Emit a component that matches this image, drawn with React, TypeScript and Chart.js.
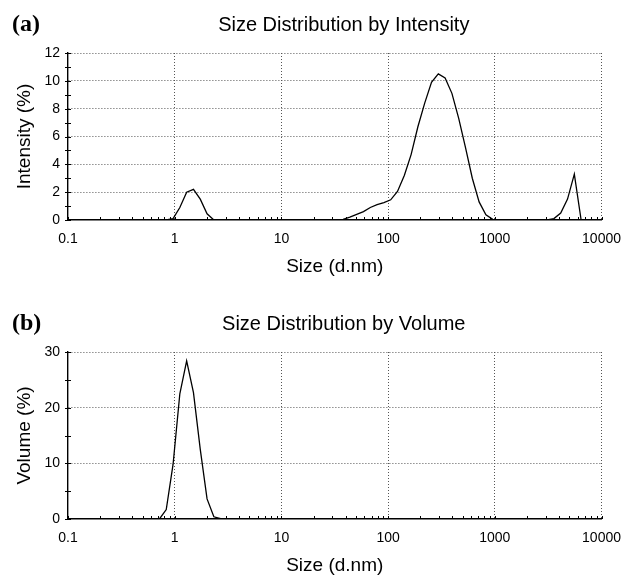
import React, { useEffect, useRef } from "react";
import { Chart, registerables } from "chart.js";

Chart.register(...registerables);

// Size classes (d.nm)
const sizes = [
  0.4, 0.4632, 0.5365, 0.6213, 0.7195, 0.8332, 0.965, 1.117, 1.294, 1.499,
  1.736, 2.01, 2.328, 2.696, 3.122, 3.615, 4.187, 4.849, 5.615, 6.503,
  7.531, 8.721, 10.1, 11.7, 13.54, 15.69, 18.17, 21.04, 24.36, 28.21,
  32.67, 37.84, 43.82, 50.75, 58.77, 68.06, 78.82, 91.28, 105.7, 122.4,
  141.8, 164.2, 190.1, 220.2, 255.0, 295.3, 342.0, 396.1, 458.7, 531.2,
  615.1, 712.4, 825.0, 955.4, 1106, 1281, 1484, 1718, 1990, 2305,
  2669, 3091, 3580, 4145, 4801, 5560, 6439, 7456, 8635, 10000,
];

// Intensity (%)
const intensity = [
  0, 0, 0, 0, 0, 0, 0.1, 0.9, 2.0, 2.2,
  1.5, 0.45, 0, 0, 0, 0, 0, 0, 0, 0,
  0, 0, 0, 0, 0, 0, 0, 0, 0, 0,
  0, 0.05, 0.2, 0.4, 0.6, 0.9, 1.1, 1.25, 1.45, 2.05,
  3.2, 4.7, 6.7, 8.4, 9.9, 10.5, 10.2, 9.1, 7.3, 5.2,
  3.0, 1.3, 0.38, 0.05, 0, 0, 0, 0, 0, 0,
  0, 0, 0.1, 0.5, 1.5, 3.3, 0, 0, 0, 0,
];

// Volume (%)
const volume = [
  0, 0, 0, 0, 0, 1.7, 9.8, 22.5, 28.4, 22.7,
  12.5, 3.6, 0.4, 0.05, 0, 0, 0, 0, 0, 0,
  0, 0, 0, 0, 0, 0, 0, 0, 0, 0,
  0, 0, 0, 0, 0, 0, 0, 0, 0, 0,
  0, 0, 0, 0, 0, 0, 0, 0, 0, 0,
  0, 0, 0, 0, 0, 0, 0, 0, 0, 0,
  0, 0, 0, 0, 0, 0, 0, 0, 0, 0,
];

const xDecades = [0.1, 1, 10, 100, 1000, 10000];
const xTickLabels = ["0.1", "1", "10", "100", "1000", "10000"];
const xMinorMultipliers = [2, 3, 4, 5, 6, 7, 8, 9];

const intensityTickLabels = [0, 2, 4, 6, 8, 10, 12];
const intensityMinorStep = 1;
const volumeTickLabels = [0, 10, 20, 30];
const volumeMinorStep = 5;

const FONT = '"Liberation Sans", Arial, Helvetica, sans-serif';
const SERIF = '"Liberation Serif", "Times New Roman", serif';
const GRID = "#555";
const NONE = "rgba(0,0,0,0)";

const W = 632;
const H = 276;

function decadeIndex(v: number) {
  return xDecades.findIndex((d) => Math.abs(v - d) / d < 1e-6);
}

function buildXTicks() {
  const out: { value: number; major: boolean }[] = [];
  for (let i = 0; i < xDecades.length; i++) {
    const d = xDecades[i];
    out.push({ value: d, major: true });
    if (i < xDecades.length - 1) {
      for (const m of xMinorMultipliers) {
        out.push({ value: parseFloat((d * m).toPrecision(8)), major: false });
      }
    }
  }
  return out;
}

const decorPlugin = {
  id: "decor",
  afterDraw(chart: any, _args: any, opts: any) {
    const ctx = chart.ctx as CanvasRenderingContext2D;
    const { left, bottom, right } = chart.chartArea;
    ctx.save();
    ctx.fillStyle = "#000";
    ctx.textBaseline = "middle";
    ctx.textAlign = "left";
    ctx.font = `bold 24px ${SERIF}`;
    ctx.fillText(opts.label, 12, 25);
    ctx.font = `20px ${FONT}`;
    ctx.textAlign = "center";
    ctx.fillText(opts.title, (left + right) / 2 + 9, 25);

    ctx.strokeStyle = "#000";
    ctx.lineWidth = 1;
    const xs = chart.scales.x;
    const ys = chart.scales.y;
    ctx.beginPath();
    for (const t of xs.ticks) {
      const px = Math.round(xs.getPixelForValue(t.value)) + 0.5;
      ctx.moveTo(px, bottom);
      ctx.lineTo(px, bottom - 3);
    }
    for (const t of ys.ticks) {
      const py = Math.round(ys.getPixelForValue(t.value)) + 0.5;
      ctx.moveTo(left - 3, py);
      ctx.lineTo(left + 3, py);
    }
    ctx.stroke();
    ctx.restore();
  },
};

function makeConfig(
  values: number[],
  label: string,
  title: string,
  yTitle: string,
  yLabels: number[],
  yStep: number
): any {
  return {
    type: "line",
    data: {
      datasets: [
        {
          data: sizes.map((s, i) => ({ x: s, y: values[i] })),
          borderColor: "#000",
          borderWidth: 1.3,
          pointRadius: 0,
          tension: 0,
          fill: false,
        },
      ],
    },
    options: {
      responsive: false,
      animation: false,
      layout: { padding: { left: 0, right: 27, top: 53, bottom: 0 } },
      plugins: {
        legend: { display: false },
        tooltip: { enabled: false },
        decor: { label, title },
      },
      scales: {
        x: {
          type: "logarithmic",
          min: xDecades[0],
          max: xDecades[xDecades.length - 1],
          afterBuildTicks: (scale: any) => {
            scale.ticks = buildXTicks();
          },
          afterFit: (scale: any) => {
            scale.height = 56;
          },
          ticks: {
            autoSkip: false,
            maxRotation: 0,
            minRotation: 0,
            padding: 11,
            color: "#000",
            font: { family: FONT, size: 14 },
            callback: (v: any) => {
              const i = decadeIndex(Number(v));
              return i >= 0 ? xTickLabels[i] : "";
            },
          },
          grid: {
            drawTicks: false,
            lineWidth: 1,
            color: (c: any) =>
              c.tick && decadeIndex(c.tick.value) > 0 ? GRID : NONE,
          },
          border: { display: true, color: "#000", width: 1.4, dash: [1, 2] },
          title: {
            display: true,
            text: "Size (d.nm)",
            color: "#000",
            font: { family: FONT, size: 19, lineHeight: 1 },
            padding: { top: 0, bottom: 0 },
          },
        },
        y: {
          min: yLabels[0],
          max: yLabels[yLabels.length - 1],
          afterFit: (scale: any) => {
            scale.width = 68;
          },
          ticks: {
            stepSize: yStep,
            autoSkip: false,
            padding: 8,
            color: "#000",
            font: { family: FONT, size: 14 },
            callback: (v: any) =>
              yLabels.includes(Number(v)) ? String(v) : "",
          },
          grid: {
            drawTicks: false,
            lineWidth: 1,
            color: (c: any) =>
              c.tick && c.tick.value !== 0 && yLabels.includes(c.tick.value)
                ? GRID
                : NONE,
          },
          border: { display: true, color: "#000", width: 1.4, dash: [1, 2] },
          title: {
            display: true,
            text: yTitle,
            color: "#000",
            font: { family: FONT, size: 19, lineHeight: 1 },
            padding: { top: 15, bottom: 0 },
          },
        },
      },
    },
    plugins: [decorPlugin],
  };
}

export default function App() {
  const refA = useRef<HTMLCanvasElement | null>(null);
  const refB = useRef<HTMLCanvasElement | null>(null);

  useEffect(() => {
    const a = new Chart(
      refA.current as HTMLCanvasElement,
      makeConfig(
        intensity,
        "(a)",
        "Size Distribution by Intensity",
        "Intensity (%)",
        intensityTickLabels,
        intensityMinorStep
      )
    );
    const b = new Chart(
      refB.current as HTMLCanvasElement,
      makeConfig(
        volume,
        "(b)",
        "Size Distribution by Volume",
        "Volume (%)",
        volumeTickLabels,
        volumeMinorStep
      )
    );
    return () => {
      a.destroy();
      b.destroy();
    };
  }, []);

  return (
    <div
      style={{
        position: "fixed",
        left: 0,
        top: 0,
        width: W,
        height: 575,
        background: "#fff",
      }}
    >
      <canvas
        ref={refA}
        width={W}
        height={H}
        style={{ position: "absolute", left: 0, top: 0, width: W, height: H }}
      />
      <canvas
        ref={refB}
        width={W}
        height={H}
        style={{ position: "absolute", left: 0, top: 299, width: W, height: H }}
      />
    </div>
  );
}
